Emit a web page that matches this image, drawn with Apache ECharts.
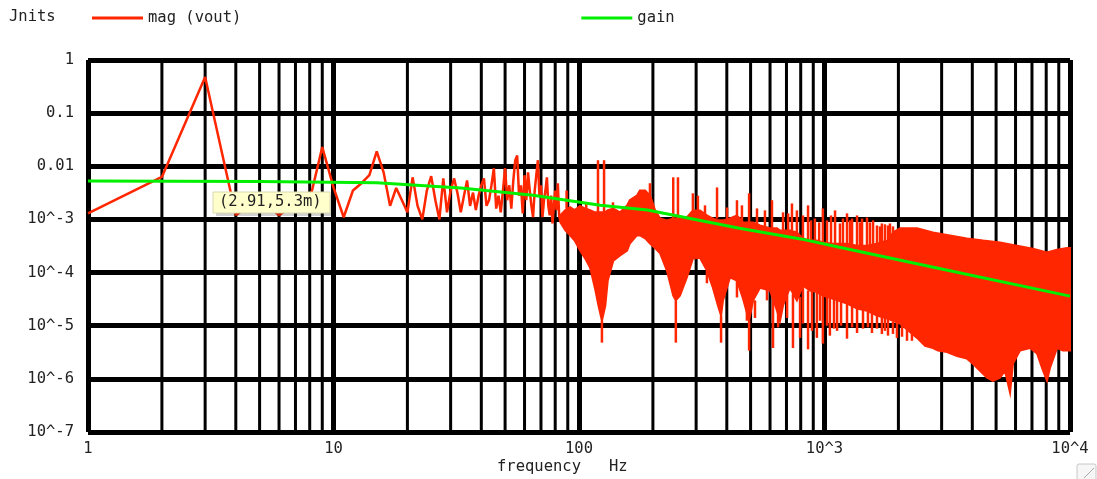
<!DOCTYPE html>
<html><head><meta charset="utf-8">
<script src="https://cdn.jsdelivr.net/npm/echarts@6/dist/echarts.min.js"></script>
<style>html,body{margin:0;padding:0;background:#fff;}#c{width:1097px;height:479px;}</style>
</head><body><div id="c"></div>
<script>
// ---------- data ----------
const xTickLabels = ['1', '10', '100', '10^3', '10^4'];
const yTickLabels = ['10^-7', '10^-6', '10^-5', '10^-4', '10^-3', '0.01', '0.1', '1'];
const minorTicks = [2,3,4,5,6,7,8,9,20,30,40,50,60,70,80,90,200,300,400,500,600,700,800,900,2000,3000,4000,5000,6000,7000,8000,9000];

// individual FFT bins (Hz) and magnitudes at low frequency
const lowFreq = [1,2,3,4,5,6,7,8,9,10,11,12,13,14,15,16,17,18,19,20,
  21,22,23,24,25,26,27,28,29,30,31,32,33,34,35,36,37,38,39,40,
  41,42,43,44,45,46,47,48,49,50,51,52,53,54,55,56,57,58,59,60,
  61,62,63,64,65,66,67,68,69,70,71,72,73,74,75,76,77,78,79,80,
  81,82,83,84];
const lowMag = [1.3e-3,6.3e-3,0.48,1.2e-3,2.5e-3,1.2e-3,2.0e-3,2.3e-3,0.023,4.0e-3,
  1.1e-3,3.5e-3,4.8e-3,6.8e-3,0.019,7.7e-3,1.8e-3,3.9e-3,2.3e-3,1.36e-3,
  6.2e-3,1.8e-3,1.0e-3,3.5e-3,6.5e-3,2.3e-3,1.0e-3,5.9e-3,1.36e-3,3.5e-3,
  5.9e-3,3.1e-3,1.36e-3,2.8e-3,5.4e-3,1.8e-3,3.2e-3,1.5e-3,2.8e-3,4.4e-3,
  5.9e-3,1.8e-3,2.3e-3,4.4e-3,9.2e-3,1.6e-3,2.8e-3,1.36e-3,3.5e-3,9.2e-3,
  2.3e-3,4.4e-3,1.6e-3,5.4e-3,0.013,0.016,2.8e-3,4.4e-3,1.3e-3,6.8e-3,
  2.3e-3,7.7e-3,3.5e-3,1.8e-3,1.1e-3,3.5e-3,6.8e-3,0.013,2.8e-3,4.4e-3,
  1.1e-3,2.3e-3,3.5e-3,6.2e-3,1.8e-3,1.2e-3,2.8e-3,8.4e-4,1.8e-3,3.5e-3,
  1.5e-3,4.8e-3,1.2e-3,9e-4];

// dense band: upper edge
const topFreq = [84,88,92,96,101,106,111,116,120,124,128,131,138,147,157,161,172,177,186,195,
  204,214,228,242,248,258,275,291,311,332,351,368,379,386,412,440,466,493,512,546,
  600,641,659,678,723,772,817,872,931,985,1083,1235,1357,1490,1636,1814,1901,2031,2382,2766,
  3243,3805,4426,5188,6083,7066,8060,8853,9720,10000];
const topMag = [1.2e-3,1.5e-3,1.7e-3,1.5e-3,1.8e-3,1.6e-3,1.5e-3,1.36e-3,1.36e-3,1.36e-3,1.36e-3,1.5e-3,1.6e-3,1.36e-3,1.84e-3,2.3e-3,2.8e-3,3.5e-3,3.5e-3,2.8e-3,
  1.5e-3,1.04e-3,9.6e-4,1.04e-3,1.04e-3,1.04e-3,1.09e-3,1.48e-3,1.48e-3,1.19e-3,1.04e-3,9.6e-4,9.6e-4,9.6e-4,1.04e-3,1.19e-3,8.8e-4,8.8e-4,8.8e-4,7.7e-4,
  6.8e-4,6.8e-4,6.2e-4,6.2e-4,6.2e-4,5.7e-4,4.4e-4,4.0e-4,4.0e-4,3.7e-4,3.5e-4,3.5e-4,3.2e-4,3.2e-4,3.5e-4,4.0e-4,5.7e-4,6.8e-4,6.8e-4,5.7e-4,
  5.0e-4,4.4e-4,4.0e-4,3.7e-4,3.2e-4,2.8e-4,2.4e-4,2.7e-4,2.9e-4,2.9e-4];
// dense band: lower edge
const botFreq = [84,88,92,96,101,106,111,116,120,124,128,131,138,147,157,161,172,177,186,195,
  204,214,228,242,248,258,275,291,311,332,351,368,379,386,412,440,466,493,512,546,
  600,641,659,678,723,772,817,872,931,985,1083,1235,1357,1490,1636,1814,2031,2382,2567,2766,
  2899,3154,3466,3805,3988,4299,4592,4856,5188,5436,5587,5699,5861,6255,6871,7338,7765,8060,8288,8853,
  9360,10000];
const botMag = [8.8e-4,6.2e-4,5.0e-4,4.0e-4,2.6e-4,1.83e-4,1.23e-4,5.2e-5,2.4e-5,1.24e-5,2.4e-5,7.1e-5,1.68e-4,2.1e-4,2.6e-4,3.5e-4,5.0e-4,5.0e-4,4.4e-4,3.5e-4,
  2.9e-4,2.3e-4,1.09e-4,3.7e-5,3.0e-5,3.7e-5,8.1e-5,1.83e-4,1.9e-4,1.09e-4,5.2e-5,2.4e-5,1.55e-5,3.0e-5,8.1e-5,7.1e-5,3.2e-5,1.24e-5,3.0e-5,5.2e-5,
  4.6e-5,1.9e-5,1.24e-5,2.4e-5,5.2e-5,3.0e-5,5.7e-5,4.6e-5,4.3e-5,3.7e-5,3.2e-5,2.6e-5,2.1e-5,1.9e-5,1.55e-5,1.35e-5,1.1e-5,5.9e-6,4.2e-6,3.8e-6,
  3.4e-6,3.2e-6,2.7e-6,2.4e-6,2.0e-6,1.42e-6,1.05e-6,9.2e-7,1.05e-6,1.42e-6,8.2e-7,5.5e-7,1.95e-6,3.4e-6,3.8e-6,3.0e-6,1.42e-6,9.2e-7,1.6e-6,3.8e-6,
  3.4e-6,3.4e-6];

// isolated upward spikes: frequency, base, tip
const spikeFreq = [89,107,119.5,126.5,137.5,194.5,242,253,291,305,326,365,401,440,461,493,531,572,611,678,711,737,772,
  817,857,881,914,951,985,1024,1063,1104,1156,1189,1235,1270,1295,1357,1395,1422,1490,1532,1577,1636,1683,1713,1763,1814,1848,1901];
const spikeBase = [1.6e-3,1.5e-3,1.36e-3,1.36e-3,1.6e-3,2.8e-3,1.04e-3,1.04e-3,1.48e-3,1.48e-3,1.19e-3,1.04e-3,1.0e-3,1.19e-3,9e-4,8.8e-4,8e-4,7.2e-4,6.8e-4,6.2e-4,6.2e-4,6.2e-4,5.7e-4,
  4.4e-4,4.2e-4,4.0e-4,4.0e-4,3.9e-4,3.7e-4,3.6e-4,3.5e-4,3.5e-4,3.5e-4,3.5e-4,3.5e-4,3.3e-4,3.2e-4,3.2e-4,3.2e-4,3.2e-4,3.2e-4,3.3e-4,3.4e-4,3.5e-4,3.6e-4,3.7e-4,3.8e-4,4.0e-4,4.2e-4,5.7e-4];
const spikeTip = [3.5e-3,2.1e-3,1.3e-2,1.3e-2,2.1e-3,4.8e-3,6.2e-3,6.2e-3,3.1e-3,2.8e-3,1.84e-3,4.0e-3,1.68e-3,2.3e-3,1.84e-3,3.1e-3,1.61e-3,1.48e-3,2.3e-3,1.36e-3,1.3e-3,2.0e-3,1.48e-3,
  1.19e-3,1.84e-3,9.6e-4,1.04e-3,8.8e-4,1.61e-3,9.6e-4,1.19e-3,1.48e-3,8.4e-4,1.04e-3,1.3e-3,9.6e-4,1.04e-3,1.19e-3,8.8e-4,1.04e-3,1.09e-3,8.8e-4,9.6e-4,7.7e-4,7.4e-4,8.4e-4,8.1e-4,7.7e-4,8.4e-4,7.4e-4];
// isolated downward dips: frequency, base, tip
const dipFreq = [124,248,332,379,440,483,493,521,583,617,647,704,744,795,
  817,857,889,931,959,985,1024,1052,1093,1125,1168,1235,1295,1357,1435,1503,1561,1636,1713,1763,1814,1901,1973,2069,2168,2271];
const dipBase = [1.24e-5,3.0e-5,1.09e-4,1.55e-5,7.1e-5,2.0e-5,1.24e-5,3.0e-5,5e-5,4.6e-5,1.9e-5,4.0e-5,4.0e-5,3.5e-5,
  5.7e-5,4.6e-5,4.5e-5,4.3e-5,4.0e-5,3.7e-5,3.6e-5,3.5e-5,3.3e-5,3.2e-5,3.0e-5,2.6e-5,2.4e-5,2.1e-5,2.0e-5,1.9e-5,1.8e-5,1.55e-5,1.5e-5,1.4e-5,1.35e-5,1.2e-5,1.15e-5,1.1e-5,1.0e-5,8e-6];
const dipTip = [4.8e-6,4.8e-6,6.3e-5,4.8e-6,3.4e-5,1.24e-5,3.4e-6,1.4e-5,3.0e-5,3.8e-6,9.3e-6,1.4e-5,3.8e-6,5.9e-6,
  1.1e-5,3.6e-6,8.0e-6,5.9e-6,1.24e-5,4.6e-6,1.0e-5,6.5e-6,8.8e-6,8.0e-6,1.0e-5,5.7e-6,9.3e-6,7.3e-6,8.8e-6,9.3e-6,7.3e-6,8.8e-6,7.0e-6,8.0e-6,6.5e-6,7.0e-6,5.9e-6,6.2e-6,5.2e-6,5.2e-6];

// gain curve
const gainFreq = [1,5,15,33,65,122,190,450,800,1150,3000,10000];
const gainMag = [5.3e-3,5.2e-3,4.9e-3,3.9e-3,2.85e-3,1.85e-3,1.5e-3,6.8e-4,4.3e-4,3.0e-4,1.17e-4,3.6e-5];

// ---------- chart ----------
const RED = '#ff2600', GREEN = '#00f000';
const FONT = 'DejaVu Sans Mono';
const chart = echarts.init(document.getElementById('c'), null, {renderer: 'canvas'});

const strokeData = spikeFreq.map((f, i) => [f, spikeBase[i], spikeTip[i]])
  .concat(dipFreq.map((f, i) => [f, dipBase[i], dipTip[i]]));

chart.setOption({
  animation: false,
  backgroundColor: '#fff',
  grid: {left: 88, top: 60, width: 982, height: 372, containLabel: false},
  legend: {
    data: ['mag (vout)', 'gain'], left: 87, top: 5, itemWidth: 51, itemHeight: 3, itemGap: 340,
    icon: 'rect', selectedMode: false,
    textStyle: {fontFamily: FONT, fontSize: 15.5, color: '#222', padding: [5, 0, 0, 0]}
  },
  xAxis: {
    type: 'log', logBase: 10, min: 1, max: 10000, splitNumber: 4,
    axisLine: {show: false}, axisTick: {show: false},
    axisLabel: {margin: 9, fontFamily: FONT, fontSize: 15.5, color: '#222',
      formatter: v => xTickLabels[Math.round(Math.log10(v))]},
    splitLine: {show: true, lineStyle: {color: '#000', width: 5}}
  },
  yAxis: {
    type: 'log', logBase: 10, min: 1e-7, max: 1, splitNumber: 7,
    axisLine: {show: false}, axisTick: {show: false},
    axisLabel: {margin: 14, fontFamily: FONT, fontSize: 15.5, color: '#222',
      formatter: v => yTickLabels[Math.round(Math.log10(v)) + 7]},
    splitLine: {show: true, lineStyle: {color: '#000', width: 5}}
  },
  series: [
    {
      type: 'custom', name: 'minor', z: 1, silent: true,
      data: minorTicks.map(v => [v, 1e-7, 1]), encode: {x: 0, y: [1, 2]},
      renderItem: (p, api) => {
        const a = api.coord([api.value(0), api.value(1)]);
        const b = api.coord([api.value(0), api.value(2)]);
        return {type: 'line', shape: {x1: a[0], y1: a[1], x2: b[0], y2: b[1]},
          style: {stroke: '#000', lineWidth: 3}};
      }
    },
    {
      type: 'custom', name: 'band', z: 3, silent: true,
      data: [[topFreq[0], topMag[0]]], encode: {x: 0, y: 1},
      renderItem: (p, api) => {
        const pts = [];
        for (let i = 0; i < topFreq.length; i++) pts.push(api.coord([topFreq[i], topMag[i]]));
        for (let i = botFreq.length - 1; i >= 0; i--) pts.push(api.coord([botFreq[i], botMag[i]]));
        return {type: 'polygon', shape: {points: pts}, style: {fill: RED, stroke: RED, lineWidth: 2}};
      }
    },
    {
      type: 'custom', name: 'strokes', z: 3, silent: true,
      data: strokeData, encode: {x: 0, y: [1, 2]},
      renderItem: (p, api) => {
        const a = api.coord([api.value(0), api.value(1)]);
        const b = api.coord([api.value(0), api.value(2)]);
        return {type: 'line', shape: {x1: a[0], y1: a[1], x2: b[0], y2: b[1]},
          style: {stroke: RED, lineWidth: 2.5}};
      }
    },
    {
      type: 'line', name: 'mag (vout)', z: 4, silent: true, showSymbol: false, symbol: 'none',
      data: lowFreq.map((f, i) => [f, lowMag[i]]),
      lineStyle: {color: RED, width: 2.5}, itemStyle: {color: RED}
    },
    {
      type: 'line', name: 'gain', z: 5, silent: true, showSymbol: false, symbol: 'none',
      data: gainFreq.map((f, i) => [f, gainMag[i]]),
      lineStyle: {color: GREEN, width: 3}, itemStyle: {color: GREEN}
    }
  ],
  graphic: [
    {type: 'text', left: 9, top: 9, z: 10,
      style: {text: 'Jnits', font: '15.5px "DejaVu Sans Mono"', fill: '#222'}},
    {type: 'text', left: 497, top: 459, z: 10,
      style: {text: 'frequency   Hz', font: '15.5px "DejaVu Sans Mono"', fill: '#222'}},
    {type: 'rect', z: 20, shape: {x: 216, y: 195, width: 117, height: 21},
      style: {fill: 'rgba(0,0,0,0.18)'}},
    {type: 'rect', z: 21, shape: {x: 213, y: 192, width: 117, height: 21},
      style: {fill: '#ffffcc', stroke: '#d8d8b0', lineWidth: 1}},
    {type: 'text', z: 22, x: 219, y: 194,
      style: {text: '(2.91,5.3m)', font: '15.5px "DejaVu Sans Mono"', fill: '#222'}},
    {type: 'rect', z: 10, shape: {x: 1077, y: 464, width: 19, height: 18, r: 2},
      style: {fill: '#f6f6f6', stroke: '#c8c8c8', lineWidth: 1}},
    {type: 'line', z: 11, shape: {x1: 1084, y1: 478, x2: 1094, y2: 468},
      style: {stroke: '#aaa', lineWidth: 1}}
  ]
});
</script>
</body></html>
